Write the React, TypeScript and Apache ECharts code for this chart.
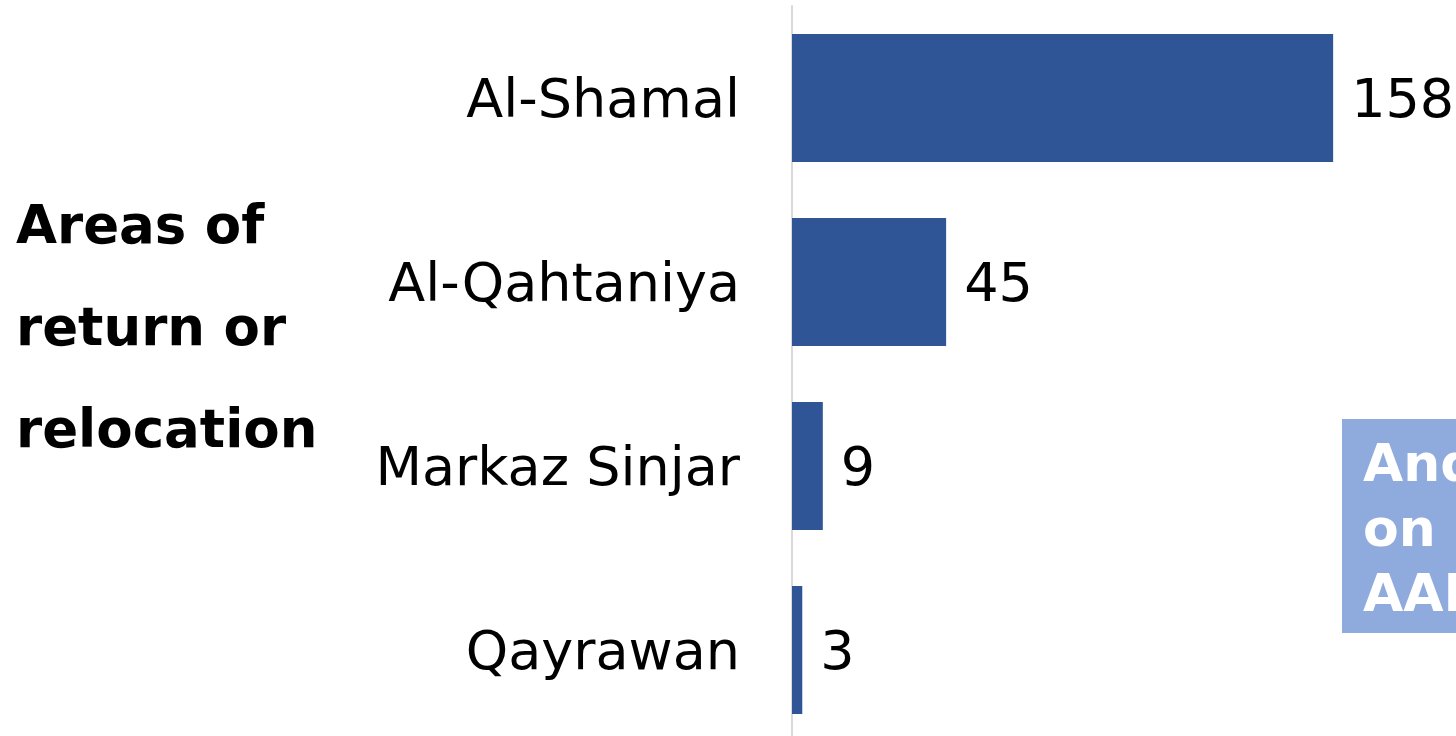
import React, { useEffect, useRef } from "react";
import * as echarts from "echarts";

const categories = ["Al-Shamal", "Al-Qahtaniya", "Markaz Sinjar", "Qayrawan"];
const values = [158, 45, 9, 3];
const titleLines = ["Areas of", "return or", "relocation"];
const noteLines = ["And", "on", "AAI"];

export default function App() {
  const ref = useRef<HTMLDivElement>(null);
  useEffect(() => {
    document.body.style.margin = "0";
    const chart = echarts.init(ref.current!, null, { renderer: "svg" });
    const font = "'DejaVu Sans', Verdana, sans-serif";
    chart.setOption({
      animation: false,
      grid: {
        left: 792,
        top: 6,
        width: 685,
        height: 736,
        containLabel: false,
        outerBoundsMode: "none",
      },
      xAxis: {
        type: "value",
        min: 0,
        max: 200,
        show: false,
      },
      yAxis: {
        type: "category",
        data: categories,
        inverse: true,
        axisLine: { show: true, lineStyle: { color: "#d9d9d9", width: 2 } },
        axisTick: { show: false },
        axisLabel: { color: "#000", fontSize: 54, fontFamily: font, margin: 52 },
      },
      series: [
        {
          type: "bar",
          data: values,
          barWidth: 128,
          itemStyle: { color: "#2f5597" },
          label: {
            show: true,
            position: "right",
            distance: 18,
            color: "#000",
            fontSize: 54,
            fontFamily: font,
          },
        },
      ],
      graphic: [
        ...titleLines.map((t, i) => ({
          type: "text",
          x: 16,
          y: 224 + i * 102,
          style: {
            text: t,
            font: `bold 53px ${font}`,
            fill: "#000",
            textVerticalAlign: "middle",
          },
        })),
        {
          type: "rect",
          shape: { x: 1342, y: 419, width: 200, height: 214 },
          style: { fill: "#8faadc" },
        },
        ...noteLines.map((t, i) => ({
          type: "text",
          x: 1363,
          y: 463 + i * 65,
          style: {
            text: t,
            font: `bold 52px ${font}`,
            fill: "#fff",
            textVerticalAlign: "middle",
          },
        })),
      ],
    });
    return () => chart.dispose();
  }, []);
  return (
    <div
      ref={ref}
      style={{ position: "fixed", left: 0, top: 0, width: 1456, height: 736 }}
    />
  );
}
